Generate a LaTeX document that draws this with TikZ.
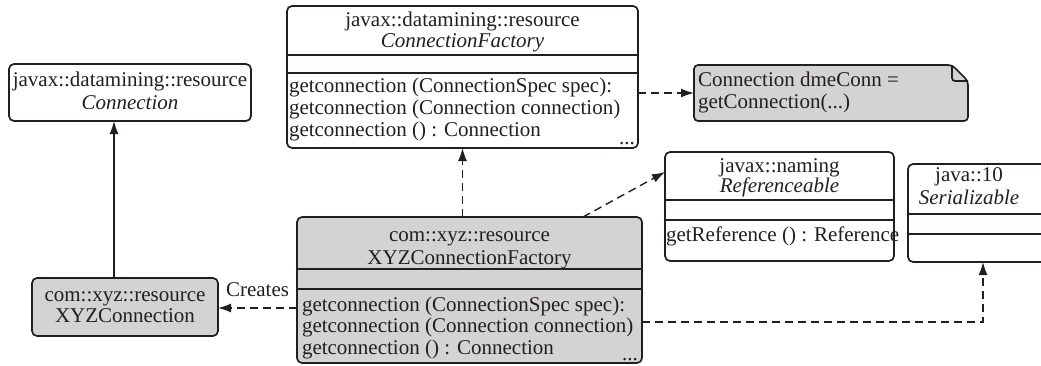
\documentclass[tikz,border=0pt]{standalone}
\usepackage{fontspec}
\setmainfont{Liberation Serif}
\usetikzlibrary{arrows.meta,calc}
\definecolor{ink}{RGB}{35,31,32}
\definecolor{boxgray}{RGB}{211,211,211}
\newcommand{\umlfont}{\fontsize{21}{22}\selectfont}
\begin{document}
\begin{tikzpicture}[x=1pt,y=-1pt,
  umlbox/.style={draw=ink, line width=1.7pt, rounded corners=5pt, inner sep=0pt, outer sep=0pt},
  shaded/.style={fill=boxgray},
  divider/.style={draw=ink, line width=1.7pt},
  txt/.style={inner sep=0pt, outer sep=0pt, text=ink, font=\umlfont, text height=14pt, text depth=5pt},
  itxt/.style={txt, font=\umlfont\itshape},
  ltxt/.style={txt, anchor=west},
  deparrow/.style={draw=ink, line width=1.4pt, dash pattern=on 8pt off 5pt, -{Latex[length=13pt,width=9pt]}},
  solidarrow/.style={draw=ink, line width=1.4pt, -{Latex[length=13pt,width=9pt]}}
]
\clip (0,0) rectangle (1041,365);
\fill[white] (0,0) rectangle (1041,365);

% ---------- boxes ----------
\node[umlbox, minimum width=242pt, minimum height=57pt] (conn) at (130,92.5) {};
\node[umlbox, minimum width=351pt, minimum height=142pt] (cf) at (462.5,77) {};
\node[inner sep=0pt, outer sep=0pt, minimum width=274pt, minimum height=56pt] (note) at (831,93) {};
\node[umlbox, minimum width=229pt, minimum height=109pt] (ref) at (779.5,206.5) {};
\node[umlbox, minimum width=150pt, minimum height=98pt] (ser) at (983,213) {};
\node[umlbox, shaded, minimum width=345pt, minimum height=146pt] (xcf) at (469.5,290) {};
\node[umlbox, shaded, minimum width=186pt, minimum height=58pt] (xc) at (125,307) {};

% note with folded corner
\draw[draw=ink, fill=boxgray, line width=1.7pt, rounded corners=4pt]
  (note.north west) -- ([xshift=-16pt]note.north east) -- ([yshift=-16pt]note.north east)
  -- (note.south east) -- (note.south west) -- cycle;
\draw[draw=ink, line width=1.7pt, rounded corners=3pt]
  ([xshift=-16pt]note.north east) -- ([xshift=-16pt,yshift=-16pt]note.north east) -- ([yshift=-16pt]note.north east);

% dividers
\draw[divider] ([yshift=-49pt]cf.north west) -- ([yshift=-49pt]cf.north east);
\draw[divider] ([yshift=-67pt]cf.north west) -- ([yshift=-67pt]cf.north east);
\draw[divider] ([yshift=-48pt]ref.north west) -- ([yshift=-48pt]ref.north east);
\draw[divider] ([yshift=-68pt]ref.north west) -- ([yshift=-68pt]ref.north east);
\draw[divider] ([yshift=-50pt]ser.north west) -- ([yshift=-50pt]ser.north east);
\draw[divider] ([yshift=-70pt]ser.north west) -- ([yshift=-70pt]ser.north east);
\draw[divider] ([yshift=-52pt]xcf.north west) -- ([yshift=-52pt]xcf.north east);
\draw[divider] ([yshift=-72pt]xcf.north west) -- ([yshift=-72pt]xcf.north east);

% ---------- texts ----------
\node[txt] (conn1) at (130,82) {javax::datamining::resource};
\node[itxt] (conn2) at (130,105) {Connection};

\node[txt] (cf1) at (462.5,22) {javax::datamining::resource};
\node[itxt] (cf2) at (462.5,43) {ConnectionFactory};
\node[ltxt] (cfm1) at (289,88) {getconnection (ConnectionSpec spec):};
\node[ltxt] (cfm2) at (289,110) {getconnection (Connection connection)};
\node[ltxt] (cfm3) at (289,132) {getconnection () : Connection};
\node[txt] (cfdots) at (627,140) {...};

\node[ltxt] (note1) at (698,82) {Connection dmeConn =};
\node[ltxt] (note2) at (698,104) {getConnection(...)};

\node[txt] (ref1) at (779.5,168) {javax::naming};
\node[itxt] (ref2) at (779.5,188) {Referenceable};
\node[ltxt] (refm) at (666,237) {getReference () : Reference};

\node[txt] (ser1) at (969,177) {java::10};
\node[itxt] (ser2) at (969,200) {Serializable};

\node[txt] (xcf1) at (469.5,237) {com::xyz::resource};
\node[txt] (xcf2) at (469.5,260) {XYZConnectionFactory};
\node[ltxt] (xcfm1) at (302,307) {getconnection (ConnectionSpec spec):};
\node[ltxt] (xcfm2) at (302,328) {getconnection (Connection connection)};
\node[ltxt] (xcfm3) at (302,350) {getconnection () : Connection};
\node[txt] (xcfdots) at (630,356) {...};

\node[txt] (xc1) at (125,297) {com::xyz::resource};
\node[txt] (xc2) at (125,318) {XYZConnection};

% ---------- connectors ----------
\draw[solidarrow] ([xshift=-11pt]xc.north) -- ([xshift=-11pt]xc.north |- conn.south);
\draw[deparrow] (cf.south |- xcf.north) -- (cf.south);
\draw[deparrow] ([yshift=-16pt]cf.east) -- ([yshift=-16pt]cf.east -| note.west);
\draw[deparrow] ([xshift=113.5pt]xcf.north) -- ([yshift=34.5pt]ref.west);
\draw[deparrow] ([yshift=-18pt]xcf.west) -- node[txt, yshift=16pt] (creates) {Creates} ([yshift=-18pt]xcf.west -| xc.east);
\draw[deparrow] ([yshift=-32pt]xcf.east) -| (ser.south);
\end{tikzpicture}
\end{document}
